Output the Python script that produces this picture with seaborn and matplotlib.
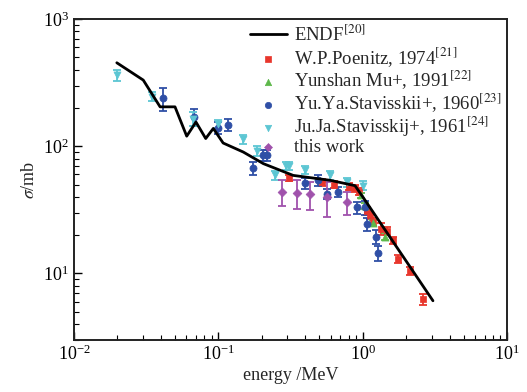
import numpy as np
import pandas as pd
import matplotlib
matplotlib.use("Agg")
import matplotlib.pyplot as plt
import seaborn as sns

# ENDF evaluated cross section
endf_e = [0.0198, 0.0302, 0.0395, 0.0501, 0.0604, 0.070, 0.0818, 0.0923, 0.108,
          0.149, 0.205, 0.33, 0.594, 0.885, 1.04, 3.07]
endf_s = [453, 331, 204, 204, 120, 155, 115, 138, 106,
          90, 73, 59, 54, 49, 37.6, 6.1]

# W.P.Poenitz, 1974
poen_e = [0.31, 0.52, 0.63, 0.80, 0.88, 0.94, 1.08, 1.12, 1.18, 1.35, 1.47, 1.62, 1.77, 2.13, 2.6]
poen_s = [56, 52, 50, 48, 47, 44, 31, 28.6, 25.4, 22.5, 21.5, 18.2, 13, 10.5, 6.3]
poen_err = [3, 3, 3, 3, 3, 3, 2, 2, 1.8, 2.5, 1.5, 1.2, 1.0, 0.8, 0.6]

# Yunshan Mu+, 1991
mu_e = [0.97, 1.04, 1.18, 1.43]
mu_s = [41, 34, 25, 19.5]
mu_err = [2, 2, 1.5, 1.2]

# Yu.Ya.Stavisskii+, 1960
yu_e = [0.0416, 0.068, 0.100, 0.117, 0.173, 0.205, 0.216, 0.40, 0.49, 0.564, 0.68, 0.91, 1.04, 1.07, 1.24, 1.28]
yu_s = [238, 170, 140, 148, 67, 85, 85, 51, 54, 42.4, 44, 33, 33, 24.5, 19.5, 14.5]
yu_err = [50, 25, 15, 16, 8, 9, 9, 5, 5, 4, 4, 3.5, 4, 3, 2.5, 2]

# Ju.Ja.Stavisskij+, 1961
ju_e = [0.020, 0.0345, 0.067, 0.100, 0.148, 0.185, 0.247, 0.295, 0.31, 0.40, 0.59, 0.78, 1.01]
ju_s = [362, 245, 165, 150, 113, 92, 59, 70, 70, 65, 59, 52, 49]
ju_err = [35, 20, 20, 12, 9, 8, 5, 5, 5, 5, 5, 4, 4]

# this work
tw_e = [0.275, 0.35, 0.43, 0.57, 0.78]
tw_s = [44, 43, 42, 40, 36.5]
tw_err = [10, 11, 10.5, 12, 7.5]

sns.set_theme(style="ticks")
plt.rcParams["font.family"] = ["Liberation Serif", "DejaVu Serif"]
plt.rcParams["mathtext.fontset"] = "stix"

fig = plt.figure(figsize=(5.27, 3.92), dpi=100)
ax = fig.add_axes([0.1404, 0.1327, 0.8216, 0.8188])

endf = pd.DataFrame({"E": endf_e, "s": endf_s})
sns.lineplot(data=endf, x="E", y="s", ax=ax, color="black", lw=2.0,
             label=r"ENDF$^{[20]}$", sort=False, zorder=5)

series = [
    (poen_e, poen_s, poen_err, "#e8362c", "s", r"W.P.Poenitz, 1974$^{[21]}$", 22),
    (mu_e, mu_s, mu_err, "#5db84a", "^", r"Yunshan Mu+, 1991$^{[22]}$", 26),
    (yu_e, yu_s, yu_err, "#2f4fa6", "o", r"Yu.Ya.Stavisskii+, 1960$^{[23]}$", 26),
    (ju_e, ju_s, ju_err, "#5cc6d3", "v", r"Ju.Ja.Stavisskij+, 1961$^{[24]}$", 26),
    (tw_e, tw_s, tw_err, "#a052ac", "D", "this work", 20),
]
for e, s, err, col, mk, lab, sz in series:
    ax.errorbar(e, s, yerr=err, fmt="none", ecolor=col, elinewidth=1.3,
                capsize=3, capthick=1.3, zorder=3)
    df = pd.DataFrame({"E": e, "s": s})
    sns.scatterplot(data=df, x="E", y="s", ax=ax, color=col, marker=mk,
                    s=sz, edgecolor=col, linewidth=0.5, label=lab, zorder=4)

ax.set_xscale("log")
ax.set_yscale("log")
ax.set_xlim(1e-2, 1e1)
ax.set_ylim(3, 1e3)
ax.set_xlabel("energy /MeV", fontsize=13, labelpad=2)
ax.set_ylabel(r"$\sigma$/mb", fontsize=13, labelpad=4)

ax.tick_params(which="both", direction="in", top=False, right=False,
               labelsize=13, colors="black")
ax.tick_params(which="major", length=6, width=1.0)
ax.tick_params(which="minor", length=3.5, width=0.8)
for sp in ax.spines.values():
    sp.set_linewidth(1.4)
    sp.set_color("#222222")

leg = ax.legend(loc="upper right", frameon=False, fontsize=13.5,
                handlelength=2.0, handletextpad=0.35, labelspacing=0.0,
                borderaxespad=0.1, borderpad=0.2, markerscale=0.9)

fig.savefig("out.png", dpi=100)
